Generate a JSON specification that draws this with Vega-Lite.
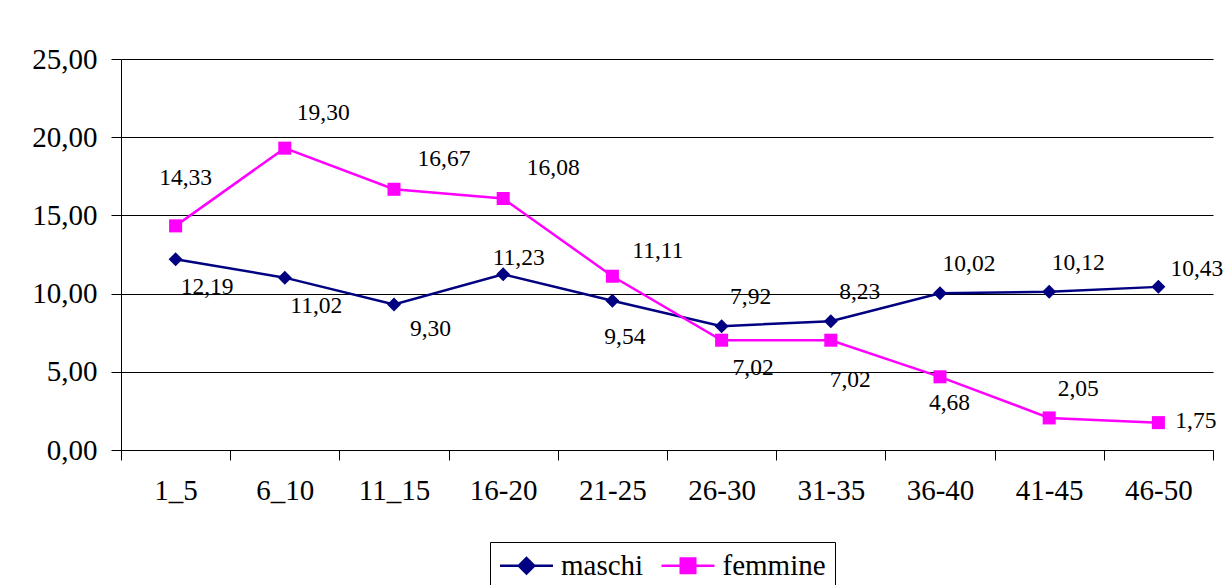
{
  "$schema": "https://vega.github.io/schema/vega-lite/v6.json",
  "width": 1092,
  "height": 391,
  "autosize": {"type": "none"},
  "padding": {"left": 121, "top": 59, "right": 12, "bottom": 135},
  "background": "white",
  "config": {
    "view": {"stroke": null},
    "font": "Times New Roman, Liberation Serif, serif",
    "locale": {"number": {"decimal": ",", "thousands": ".", "grouping": [3], "currency": ["", " €"]}}
  },
  "data": {
    "values": [
      {"cat": "1_5", "serie": "maschi", "value": 12.19},
      {"cat": "6_10", "serie": "maschi", "value": 11.02},
      {"cat": "11_15", "serie": "maschi", "value": 9.30},
      {"cat": "16-20", "serie": "maschi", "value": 11.23},
      {"cat": "21-25", "serie": "maschi", "value": 9.54},
      {"cat": "26-30", "serie": "maschi", "value": 7.92},
      {"cat": "31-35", "serie": "maschi", "value": 8.23},
      {"cat": "36-40", "serie": "maschi", "value": 10.02},
      {"cat": "41-45", "serie": "maschi", "value": 10.12},
      {"cat": "46-50", "serie": "maschi", "value": 10.43},
      {"cat": "1_5", "serie": "femmine", "value": 14.33},
      {"cat": "6_10", "serie": "femmine", "value": 19.30},
      {"cat": "11_15", "serie": "femmine", "value": 16.67},
      {"cat": "16-20", "serie": "femmine", "value": 16.08},
      {"cat": "21-25", "serie": "femmine", "value": 11.11},
      {"cat": "26-30", "serie": "femmine", "value": 7.02},
      {"cat": "31-35", "serie": "femmine", "value": 7.02},
      {"cat": "36-40", "serie": "femmine", "value": 4.68},
      {"cat": "41-45", "serie": "femmine", "value": 2.05},
      {"cat": "46-50", "serie": "femmine", "value": 1.75}
    ]
  },
  "encoding": {
    "x": {
      "field": "cat", "type": "nominal",
      "sort": ["1_5", "6_10", "11_15", "16-20", "21-25", "26-30", "31-35", "36-40", "41-45", "46-50"],
      "scale": {"type": "band", "paddingInner": 0, "paddingOuter": 0},
      "axis": {
        "title": null, "labelAngle": 0, "tickBand": "extent", "tickSize": 10, "labelPadding": 16,
        "labelFont": "Times New Roman, Liberation Serif, serif", "labelFontSize": 29, "labelColor": "black",
        "domainColor": "black", "tickColor": "black", "domainWidth": 1, "tickWidth": 1, "grid": false
      }
    },
    "y": {
      "field": "value", "type": "quantitative",
      "scale": {"domain": [0, 25], "nice": false, "zero": true},
      "axis": {
        "title": null, "values": [0, 5, 10, 15, 20, 25], "format": ".2f", "tickSize": 10, "labelPadding": 14,
        "labelFont": "Times New Roman, Liberation Serif, serif", "labelFontSize": 29, "labelColor": "black",
        "domainColor": "black", "tickColor": "black", "grid": true, "gridColor": "black", "gridWidth": 1
      }
    }
  },
  "layer": [
    {
      "mark": {"type": "point", "filled": true, "opacity": 0, "size": 400},
      "encoding": {
        "color": {
          "field": "serie", "type": "nominal",
          "scale": {"domain": ["maschi", "femmine"], "range": ["#000080", "#FF00FF"]},
          "legend": {
            "orient": "none", "legendX": 369, "legendY": 483, "direction": "horizontal", "title": null,
            "strokeColor": "black", "fillColor": "white", "padding": 9,
            "labelFont": "Times New Roman, Liberation Serif, serif", "labelFontSize": 29, "labelColor": "black",
            "symbolSize": 400, "symbolOffset": 13, "labelOffset": 20, "columnPadding": 16.5,
            "symbolStrokeWidth": 0, "symbolOpacity": 1
          }
        },
        "shape": {
          "field": "serie", "type": "nominal",
          "scale": {
            "domain": ["maschi", "femmine"],
            "range": [
              "M-2.65,-0.13H2.65V0.13H-2.65Z M-0.95,0L0,-0.95L0.95,0L0,0.95Z",
              "M-2.65,-0.13H2.65V0.13H-2.65Z M-0.85,-0.85H0.85V0.85H-0.85Z"
            ]
          },
          "legend": {
            "orient": "none", "legendX": 369, "legendY": 483, "direction": "horizontal", "title": null,
            "strokeColor": "black", "fillColor": "white", "padding": 9,
            "labelFont": "Times New Roman, Liberation Serif, serif", "labelFontSize": 29, "labelColor": "black",
            "symbolSize": 400, "symbolOffset": 13, "labelOffset": 20, "columnPadding": 16.5,
            "symbolStrokeWidth": 0, "symbolOpacity": 1
          }
        }
      }
    },
    {
      "mark": {"type": "line", "strokeWidth": 2.5},
      "encoding": {
        "color": {"field": "serie", "type": "nominal", "scale": {"domain": ["maschi", "femmine"], "range": ["#000080", "#FF00FF"]}, "legend": null}
      }
    },
    {
      "transform": [{"filter": "datum.serie === 'maschi'"}],
      "mark": {"type": "point", "filled": true, "shape": "diamond", "size": 196, "color": "#000080", "opacity": 1}
    },
    {
      "transform": [{"filter": "datum.serie === 'femmine'"}],
      "mark": {"type": "point", "filled": true, "shape": "square", "size": 170, "color": "#FF00FF", "opacity": 1}
    },
    {
      "transform": [{"filter": "(datum.serie === 'maschi' && indexof(['26-30','31-35','36-40','41-45'], datum.cat) >= 0) || (datum.serie === 'femmine' && datum.cat === '41-45')"}],
      "mark": {"type": "text", "fontSize": 23.5, "color": "black", "align": "center", "baseline": "middle", "dx": 29, "dy": -29},
      "encoding": {"text": {"field": "value", "type": "quantitative", "format": ".2f"}}
    },
    {
      "transform": [{"filter": "(datum.serie === 'maschi' && indexof(['1_5','6_10'], datum.cat) >= 0) || (datum.serie === 'femmine' && datum.cat === '26-30')"}],
      "mark": {"type": "text", "fontSize": 23.5, "color": "black", "align": "center", "baseline": "middle", "dx": 31.5, "dy": 28},
      "encoding": {"text": {"field": "value", "type": "quantitative", "format": ".2f"}}
    },
    {
      "transform": [{"filter": "datum.serie === 'maschi' && datum.cat === '11_15'"}],
      "mark": {"type": "text", "fontSize": 23.5, "color": "black", "align": "center", "baseline": "middle", "dx": 36.5, "dy": 24},
      "encoding": {"text": {"field": "value", "type": "quantitative", "format": ".2f"}}
    },
    {
      "transform": [{"filter": "datum.serie === 'maschi' && datum.cat === '16-20'"}],
      "mark": {"type": "text", "fontSize": 23.5, "color": "black", "align": "center", "baseline": "middle", "dx": 15.5, "dy": -16},
      "encoding": {"text": {"field": "value", "type": "quantitative", "format": ".2f"}}
    },
    {
      "transform": [{"filter": "datum.serie === 'maschi' && datum.cat === '21-25'"}],
      "mark": {"type": "text", "fontSize": 23.5, "color": "black", "align": "center", "baseline": "middle", "dx": 12.5, "dy": 36},
      "encoding": {"text": {"field": "value", "type": "quantitative", "format": ".2f"}}
    },
    {
      "transform": [{"filter": "datum.serie === 'maschi' && datum.cat === '46-50'"}],
      "mark": {"type": "text", "fontSize": 23.5, "color": "black", "align": "center", "baseline": "middle", "dx": 38.5, "dy": -18},
      "encoding": {"text": {"field": "value", "type": "quantitative", "format": ".2f"}}
    },
    {
      "transform": [{"filter": "datum.serie === 'femmine' && datum.cat === '1_5'"}],
      "mark": {"type": "text", "fontSize": 23.5, "color": "black", "align": "center", "baseline": "middle", "dx": 10, "dy": -48},
      "encoding": {"text": {"field": "value", "type": "quantitative", "format": ".2f"}}
    },
    {
      "transform": [{"filter": "datum.serie === 'femmine' && datum.cat === '6_10'"}],
      "mark": {"type": "text", "fontSize": 23.5, "color": "black", "align": "center", "baseline": "middle", "dx": 38.5, "dy": -35.5},
      "encoding": {"text": {"field": "value", "type": "quantitative", "format": ".2f"}}
    },
    {
      "transform": [{"filter": "datum.serie === 'femmine' && indexof(['11_15','16-20'], datum.cat) >= 0"}],
      "mark": {"type": "text", "fontSize": 23.5, "color": "black", "align": "center", "baseline": "middle", "dx": 50, "dy": -30.5},
      "encoding": {"text": {"field": "value", "type": "quantitative", "format": ".2f"}}
    },
    {
      "transform": [{"filter": "datum.serie === 'femmine' && datum.cat === '21-25'"}],
      "mark": {"type": "text", "fontSize": 23.5, "color": "black", "align": "center", "baseline": "middle", "dx": 45.5, "dy": -25},
      "encoding": {"text": {"field": "value", "type": "quantitative", "format": ".2f"}}
    },
    {
      "transform": [{"filter": "datum.serie === 'femmine' && datum.cat === '31-35'"}],
      "mark": {"type": "text", "fontSize": 23.5, "color": "black", "align": "center", "baseline": "middle", "dx": 19.5, "dy": 40},
      "encoding": {"text": {"field": "value", "type": "quantitative", "format": ".2f"}}
    },
    {
      "transform": [{"filter": "datum.serie === 'femmine' && datum.cat === '36-40'"}],
      "mark": {"type": "text", "fontSize": 23.5, "color": "black", "align": "center", "baseline": "middle", "dx": 9.5, "dy": 26},
      "encoding": {"text": {"field": "value", "type": "quantitative", "format": ".2f"}}
    },
    {
      "transform": [{"filter": "datum.serie === 'femmine' && datum.cat === '46-50'"}],
      "mark": {"type": "text", "fontSize": 23.5, "color": "black", "align": "center", "baseline": "middle", "dx": 37.5, "dy": -1.5},
      "encoding": {"text": {"field": "value", "type": "quantitative", "format": ".2f"}}
    }
  ]
}
